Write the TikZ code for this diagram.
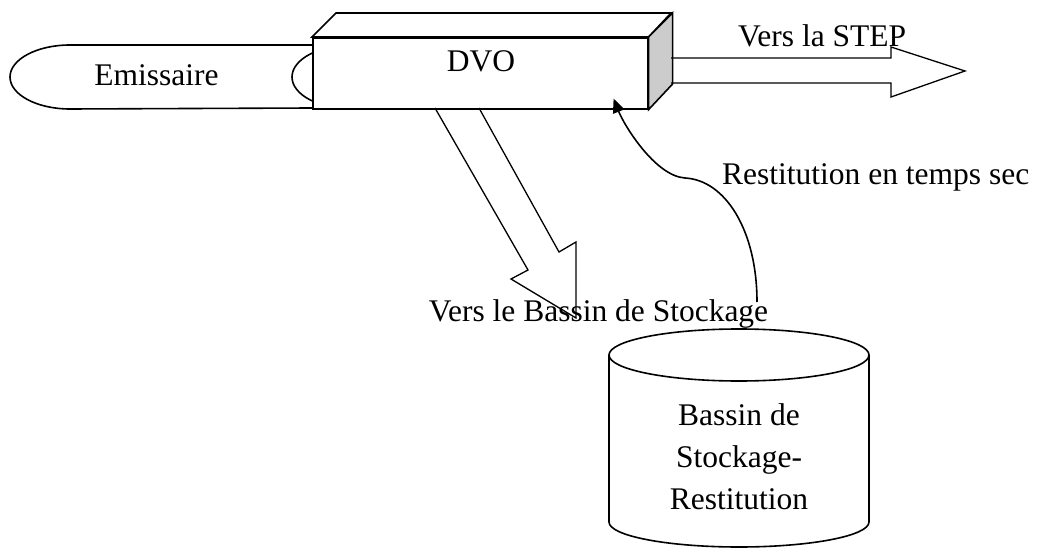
\documentclass[tikz,border=0pt]{standalone}
\usepackage{fontspec}
\setmainfont{Liberation Serif}
\usetikzlibrary{arrows.meta,calc}
\definecolor{sidegray}{RGB}{204,204,204}
\begin{document}
\begin{tikzpicture}[x=1pt,y=-1pt,
  line/.style={line width=1.6pt, line join=miter},
  thin/.style={line width=1.3pt, line join=miter},
  lbl/.style={inner sep=0pt, font=\fontsize{31.5}{42}\selectfont},
]
\useasboundingbox (0,0) rectangle (1039,548);

% Emissaire (horizontal cylinder)
\draw[line] (312,45) -- (70,45) arc[start angle=270, end angle=90, x radius=60, y radius=32] -- (312,108);
\draw[line] (352,77) ellipse [x radius=60, y radius=32];
\node[lbl, anchor=base] (emis) at (156.5,86) {Emissaire};

% DVO box
\node[line, draw, fill=white, minimum width=335pt, minimum height=71pt, inner sep=0pt, anchor=north west] (dvo) at (312,37) {};
\draw[line, fill=white] (dvo.north west) -- ++(24,-24) -- ++(335,0) -- (dvo.north east) -- cycle;
\draw[line, fill=sidegray] (dvo.north east) -- ++(24,-24) -- ++(0,71) -- (dvo.south east) -- cycle;
\node[lbl, anchor=base] (dvolbl) at (481,72) {DVO};

% Arrow to STEP
\draw[thin] (671,58) -- (891,58) -- (891,47) -- (965,71) -- (891,97) -- (891,83) -- (671,83);
\node[lbl, anchor=base west] (steplbl) at (738,47) {Vers la STEP};

% Arrow to storage basin
\draw[thin] (435,108) -- (528,270) -- (511,279) -- (576,318) -- (576,242) -- (559,252) -- (479,108);
\node[lbl, anchor=base] (basslbl) at (598.5,321) {Vers le Bassin de Stockage};

% Storage basin (cylinder)
\draw[line, fill=white] (609,355) -- (609,522) arc[start angle=180, end angle=0, x radius=130, y radius=25] -- (869,355);
\draw[line] (739,355) ellipse [x radius=130, y radius=26];
\node[lbl, align=center, anchor=center] (bassin) at (739,457) {Bassin de\\Stockage-\\Restitution};

% Restitution curve
\coordinate (rsrc) at (757,302);
\coordinate (rtip) at ($(dvo.south east)+(-35,-11)$);
\draw[line, -{Triangle[length=14pt,width=12pt]}] (rsrc) .. controls (757,230) and (725,180) .. (685,178) .. controls (655,176) and (624,125) .. (rtip);
\node[lbl, anchor=base west] (restlbl) at (722,185) {Restitution en temps sec};
\end{tikzpicture}
\end{document}
